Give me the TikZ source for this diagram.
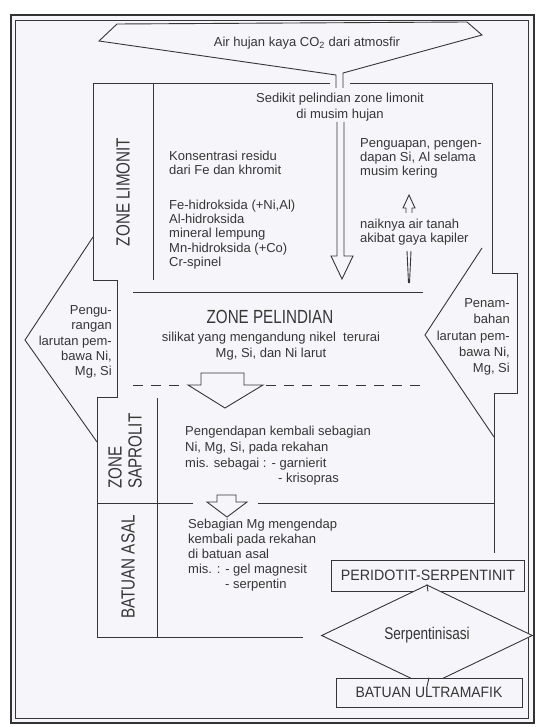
\documentclass[tikz,border=0pt]{standalone}
\usepackage{fontspec}
\setmainfont{Liberation Sans}
\usepackage{graphicx}
\usetikzlibrary{shapes.geometric}
\definecolor{ink}{HTML}{363636}
\definecolor{paper}{HTML}{F6F5F9}
\newcommand\nrw[2][0.8]{\scalebox{#1}[1]{#2}}
\tikzset{
  ln/.style={draw=ink, line width=0.9pt, line join=miter},
  txt/.style={font=\fontsize{13}{14.3}\selectfont, text=ink, inner sep=0pt},
  zonelbl/.style={font=\fontsize{19}{20}\selectfont, text=ink, inner sep=0pt, rotate=90},
  bigtxt/.style={font=\fontsize{19}{20}\selectfont, text=ink, inner sep=0pt},
  rockbox/.style={draw=ink, line width=0.9pt, fill=paper, font=\fontsize{15}{16}\selectfont, text=ink, inner sep=0pt},
  procdiamond/.style={draw=ink, line width=0.9pt, fill=paper, shape=diamond, inner sep=0pt,
     minimum width=211pt, minimum height=57pt, font=\fontsize{17}{18}\selectfont, text=ink}
}
\begin{document}
\begin{tikzpicture}[x=1pt,y=-1pt]
\useasboundingbox (0,0) rectangle (535,727);
\fill[white] (0,0) rectangle (535,727);
\fill[paper] (11,15) rectangle (534,723);
% frame
\draw[draw=black!80, line width=2.4pt] (11,15) rectangle (534,723);
\draw[draw=ink, line width=0.8pt] (15.5,20) rectangle (528,718.5);

% funnel (rain water)
\draw[ln] (336,88) -- (336,75) -- (99,41) -- (117,24) -- (467,22) -- (482,35) -- (343,73) -- (343,88);
\node[txt] (air) at (307,43) {Air hujan kaya CO\textsubscript{2} dari atmosfir};

% limonit box and left/right outlines
\draw[ln] (330,83) -- (93,83) -- (93,280) -- (117,280) -- (117,397) -- (97,397) -- (97,637) -- (303,637);
\draw[ln] (350,83) -- (492,83) -- (492,273) -- (517,273) -- (517,393) -- (494,393) -- (494,553);
\draw[ln] (153,83) -- (153,280);
\draw[ln] (157,398) -- (157,637);
% side arrow heads
\draw[ln] (93,237) -- (25,340) -- (97,442);
\draw[ln] (482,248) -- (425,335) -- (494,437);

% zone lines
\draw[ln] (133,292) -- (423,292);
\draw[ln, dash pattern=on 10pt off 8pt] (133,385) -- (182,385);
\draw[ln, dash pattern=on 10pt off 8pt] (266,385) -- (425,385);
\draw[ln] (97,503) -- (193,503);
\draw[ln] (258,503) -- (494,503);

% block arrows
\draw[ln] (337,122) -- (337,256) -- (331,256) -- (342,279) -- (353,256) -- (344,256) -- (344,122);
\draw[ln] (406,213) -- (406,208) -- (403,208) -- (409,195) -- (415,208) -- (412,208) -- (412,213);
\draw[ln] (407,251) -- (408.5,283);
\draw[ln] (411,251) -- (409.5,283);
\draw[ln] (201,373) -- (244,373) -- (244,385) -- (263,385) -- (225,408) -- (188,385) -- (201,385) -- cycle;
\draw[ln] (217,495) -- (236,495) -- (236,502) -- (247,502) -- (227,517) -- (207,502) -- (217,502) -- cycle;

% texts
\node[txt, align=center] (sedikit) at (340,107) {Sedikit pelindian zone limonit\\[1.7pt]di musim hujan};
\node[txt, align=left, anchor=west] (konsen) at (169,163) {Konsentrasi residu\\dari Fe dan khromit};
\node[txt, align=left, anchor=west] (mineral) at (169,234.5) {Fe-hidroksida (+Ni,Al)\\Al-hidroksida\\mineral lempung\\Mn-hidroksida (+Co)\\Cr-spinel};
\node[txt, align=left, anchor=west] (uap) at (360,158.5) {Penguapan, pengen-\\dapan Si, Al selama\\musim kering};
\node[txt, align=left, anchor=west] (naik) at (360,232) {naiknya air tanah\\akibat gaya kapiler};

\node[zonelbl] (zlim) at (123,192) {\nrw{ZONE LIMONIT}};
\node[bigtxt] (zpel) at (270,317) {\nrw{ZONE PELINDIAN}};
\node[txt, align=center] (silikat) at (271,346) {silikat yang mengandung nikel\ \ terurai\\[2pt]Mg, Si, dan Ni larut};

\node[txt, align=right, anchor=east, font=\fontsize{13}{15.3}\selectfont] (kurang) at (112,342) {Pengu-\\rangan\\larutan pem-\\bawa Ni,\\Mg, Si};
\node[txt, align=right, anchor=east, font=\fontsize{13}{16.3}\selectfont] (tambah) at (510,337) {Penam-\\bahan\\larutan pem-\\bawa Ni,\\Mg, Si};

\node[zonelbl, align=left, anchor=west] (zsap) at (125,489) {\nrw{ZONE}\\\nrw{SAPROLIT}};
\node[txt, align=left, anchor=west, font=\fontsize{13}{15.6}\selectfont] (endap) at (185,456) {Pengendapan kembali sebagian\\Ni, Mg, Si, pada rekahan\\mis. sebagai :\hspace{5pt}- garnierit\\\hspace*{93pt}- krisopras};

\node[zonelbl] (zbat) at (128,567) {\nrw{BATUAN ASAL}};
\node[txt, align=left, anchor=west, font=\fontsize{13}{15}\selectfont] (mg) at (188,555) {Sebagian Mg mengendap\\kembali pada rekahan\\di batuan asal\\mis. : - gel magnesit\\\hspace*{37pt}- serpentin};

% rock sequence
\node[rockbox, minimum width=193pt, minimum height=31pt] (peri) at (428,575.5) {\nrw[0.95]{PERIDOTIT-SERPENTINIT}};
\node[procdiamond] (serp) at (427,635.5) {\nrw{Serpentinisasi}};
\node[rockbox, minimum width=186pt, minimum height=29pt] (ultra) at (429,692.5) {\nrw[0.93]{BATUAN ULTRAMAFIK}};
\draw[ln] (peri.south) -- (serp.north);
\draw[ln] (serp.south) -- (ultra.north);
\end{tikzpicture}
\end{document}
